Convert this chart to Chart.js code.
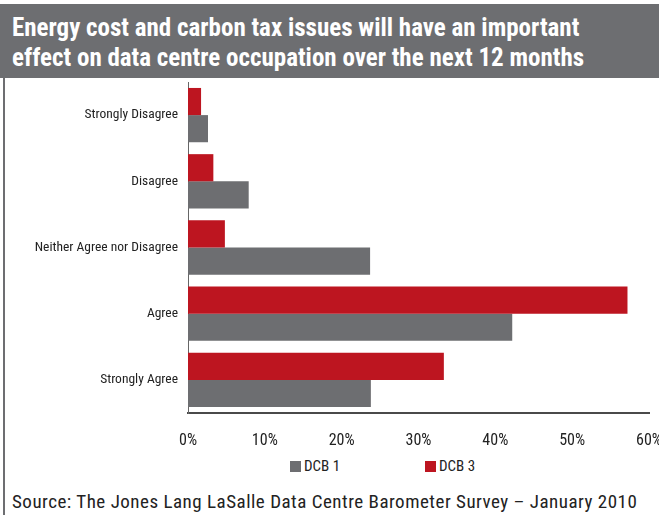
<!DOCTYPE html>
<html>
<head>
<meta charset="utf-8">
<script src="https://cdn.jsdelivr.net/npm/chart.js@4"></script>
<style>
  body { margin: 0; width: 659px; height: 515px; position: relative; background: #fff; overflow: hidden;
         font-family: "Roboto Condensed", "Liberation Sans", Arial, sans-serif; }
  #banner { position: absolute; left: 0; top: 4px; width: 659px; height: 74px; background: #6d6e71;
            color: #fff; font-weight: bold; font-size: 25px; line-height: 30px; box-sizing: border-box;
            padding: 9px 0 0 12px; white-space: nowrap; }
  #leftRule { position: absolute; left: 3px; top: 78px; width: 2px; height: 437px; background: #6d6e71; }
  #chartBox { position: absolute; left: 0; top: 78px; width: 659px; height: 370px; }
  #legend { position: absolute; top: 457px; left: 0; width: 659px; height: 18px; font-size: 15px; color: #222; }
  #legend .item { position: absolute; top: 0; line-height: 18px; }
  #legend .box { display: inline-block; width: 11px; height: 11px; margin-right: 3px; vertical-align: -1px; }
  #source { position: absolute; left: 12px; top: 490px; font-size: 19px; letter-spacing: 0.5px; color: #222; white-space: nowrap; }
</style>
</head>
<body>
<div id="banner">Energy cost and carbon tax issues will have an important<br>effect on data centre occupation over the next 12 months</div>
<div id="leftRule"></div>
<div id="chartBox"><canvas id="occupationChart"></canvas></div>
<div id="legend"></div>
<div id="source">Source: The Jones Lang LaSalle Data Centre Barometer Survey – January 2010</div>

<script>
// Survey responses (% of respondents)
const responses = ['Strongly Disagree', 'Disagree', 'Neither Agree nor Disagree', 'Agree', 'Strongly Agree'];
const dcb3 = [1.7, 3.3, 4.8, 57.2, 33.3];
const dcb1 = [2.6, 7.9, 23.7, 42.2, 23.8];
const xTicks = [0, 10, 20, 30, 40, 50, 60];

const RED = '#bd1520';
const GREY = '#6d6e71';
const FONT = '"Roboto Condensed", "Liberation Sans", Arial, sans-serif';

// keep the plot area fixed; labels may hang over the edges
function noEdgePadding(axis) {
    axis.paddingLeft = 0;
    axis.paddingRight = 0;
    axis.paddingTop = 0;
    axis.paddingBottom = 0;
}

const ctx = document.getElementById('occupationChart');
const chart = new Chart(ctx, {
    type: 'bar',
    data: {
        labels: responses,
        datasets: [
            { label: 'DCB 3', data: dcb3, backgroundColor: RED },
            { label: 'DCB 1', data: dcb1, backgroundColor: GREY }
        ]
    },
    options: {
        indexAxis: 'y',
        responsive: true,
        maintainAspectRatio: false,
        animation: false,
        categoryPercentage: 0.82,
        barPercentage: 1,
        layout: { padding: { top: 4, right: 10, left: 0, bottom: 0 } },
        plugins: {
            legend: { display: false },
            tooltip: { enabled: false }
        },
        scales: {
            x: {
                min: 0,
                max: 60,
                afterBuildTicks: axis => { axis.ticks = xTicks.map(v => ({ value: v })); },
                afterFit: axis => { axis.height = 35; noEdgePadding(axis); },
                grid: { display: false, drawTicks: false },
                border: { display: true, color: '#4a4a4a', width: 2 },
                ticks: {
                    padding: 18,
                    color: '#222',
                    font: { family: FONT, size: 16 },
                    callback: v => v + '%'
                }
            },
            y: {
                afterFit: axis => { axis.width = 188; noEdgePadding(axis); },
                grid: { display: false, drawTicks: false },
                border: { display: true, color: '#666', width: 1 },
                ticks: {
                    padding: 10,
                    color: '#222',
                    font: { family: FONT, size: 13.5 }
                }
            }
        }
    }
});

// Legend below the axis, DCB 1 first
const legendEl = document.getElementById('legend');
const legendPos = { 'DCB 1': 290, 'DCB 3': 425 };
chart.data.datasets.slice().reverse().forEach(ds => {
    const item = document.createElement('span');
    item.className = 'item';
    item.style.left = legendPos[ds.label] + 'px';
    item.innerHTML = '<span class="box" style="background:' + ds.backgroundColor + '"></span>' + ds.label;
    legendEl.appendChild(item);
});
</script>
</body>
</html>
